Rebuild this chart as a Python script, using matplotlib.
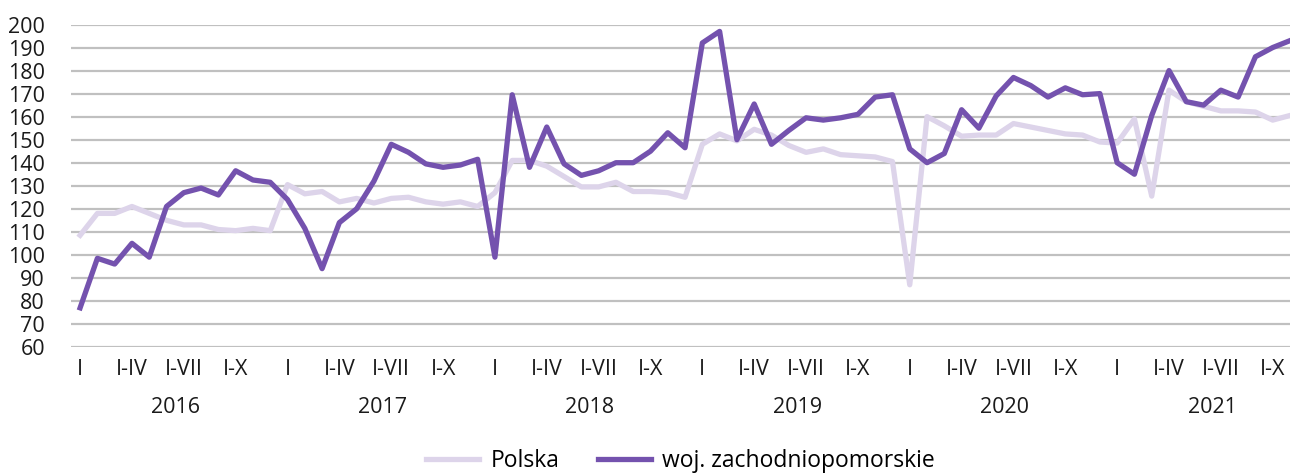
import matplotlib.pyplot as plt
import numpy as np

plt.rcParams['font.family'] = ['Open Sans', 'DejaVu Sans']

years = ['2016', '2017', '2018', '2019', '2020', '2021']
month_labels = ['I', 'I-IV', 'I-VII', 'I-X']

# monthly values, I 2016 - XI 2021
polska = [108.5, 118, 118, 121, 118, 115, 113, 113, 111, 110.5, 111.5, 110.5,
          130.5, 126.5, 127.5, 123, 124.5, 122.5, 124.5, 125, 123, 122, 123, 121,
          127, 141, 141, 138.5, 134, 129.5, 129.5, 131.5, 127.5, 127.5, 127, 125,
          148, 152.5, 149.5, 154.5, 152, 147.5, 144.5, 146, 143.5, 143, 142.5, 140.5,
          87, 160, 156, 151.5, 152, 152, 157, 155.5, 154, 152.5, 152, 149,
          148.5, 159, 125.5, 171.5, 166.5, 164.5, 162.5, 162.5, 162, 158.5, 160.5]

zachodniopomorskie = [77, 98.5, 96, 105, 99, 121, 127, 129, 126, 136.5, 132.5, 131.5,
                      124, 111.5, 94, 114, 120, 132, 148, 144.5, 139.5, 138, 139, 141.5,
                      99, 169.5, 138, 155.5, 139.5, 134.5, 136.5, 140, 140, 145, 153, 146.5,
                      192, 197, 150, 165.5, 148, 154, 159.5, 158.5, 159.5, 161, 168.5, 169.5,
                      146, 140, 144, 163, 155, 169, 177, 173.5, 168.5, 172.5, 169.5, 170,
                      140, 135, 160.5, 180, 166.5, 165, 171.5, 168.5, 186, 190, 193]

x = np.arange(len(polska))

fig = plt.figure(figsize=(12.9, 4.73), dpi=100)
ax = fig.add_axes([0.0554, 0.2664, 0.9446, 0.6818])

ax.plot(x, polska, color='#ddd4ea', lw=3.8, label='Polska', solid_joinstyle='round')
ax.plot(x, zachodniopomorskie, color='#7452ae', lw=3.8, label='woj. zachodniopomorskie',
        solid_joinstyle='round')

ax.set_ylim(60, 200)
ax.set_xlim(-0.5, 70)
ax.set_yticks(np.arange(60, 201, 10))
ax.yaxis.grid(True, color='#c0c0c0', lw=1.6)
ax.set_axisbelow(True)
for s in ax.spines.values():
    s.set_visible(False)

ticks = []
labels = []
for i in range(len(years)):
    for j, m in enumerate(month_labels):
        ticks.append(i * 12 + j * 3)
        labels.append(m)
ax.set_xticks(ticks)
ax.set_xticklabels(labels)
ax.tick_params(axis='both', length=0, labelsize=15.5, colors='#1a1a1a')
ax.tick_params(axis='x', pad=9)
ax.tick_params(axis='y', pad=19)

for i, yr in enumerate(years):
    ax.text(i * 12 + 5.5, -0.189, yr, transform=ax.get_xaxis_transform(),
            ha='center', va='center', fontsize=15.5, color='#1a1a1a')

ax.legend(loc='center', bbox_to_anchor=(0.5, -0.355), ncol=2, frameon=False,
          fontsize=16.5, handlelength=2.3, columnspacing=1.7, handletextpad=0.5)

fig.savefig('out.png', dpi=100)
